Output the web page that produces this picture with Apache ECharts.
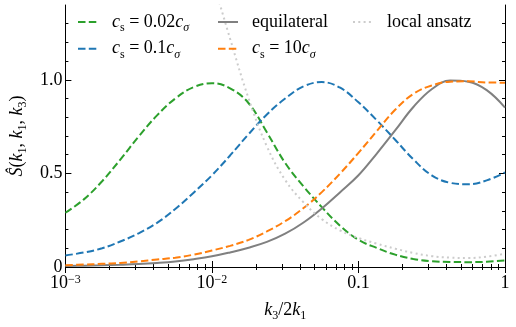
<!DOCTYPE html>
<html><head><meta charset="utf-8">
<script src="https://cdn.jsdelivr.net/npm/echarts@6/dist/echarts.min.js"></script>
<style>html,body{margin:0;padding:0;background:#fff}#c{width:516px;height:327px}</style>
</head><body><div id="c"></div>
<script>
// k3/2k1 sample points
const kRatio = [0.001, 0.00133, 0.00178, 0.00237, 0.00316, 0.00422, 0.00562, 0.0075,
  0.01, 0.0133, 0.0178, 0.0237, 0.0316, 0.0422, 0.0562, 0.075,
  0.1, 0.133, 0.178, 0.237, 0.316, 0.422, 0.562, 0.75, 1.0];
const sCs002 = [0.29, 0.36, 0.458, 0.574, 0.697, 0.81, 0.90, 0.961,
  0.982, 0.955, 0.875, 0.72, 0.556, 0.43, 0.32, 0.22,
  0.145, 0.102, 0.066, 0.043, 0.031, 0.027, 0.026, 0.028, 0.035];
const sCs01 = [0.062, 0.077, 0.10, 0.136, 0.18, 0.236, 0.31, 0.397,
  0.49, 0.596, 0.71, 0.815, 0.90, 0.965, 0.988, 0.958,
  0.88, 0.785, 0.68, 0.575, 0.49, 0.45, 0.442, 0.463, 0.505];
const sEquil = [0.005, 0.007, 0.009, 0.012, 0.016, 0.022, 0.03, 0.042,
  0.057, 0.078, 0.103, 0.134, 0.178, 0.238, 0.313, 0.40,
  0.49, 0.605, 0.73, 0.855, 0.95, 0.996, 0.99, 0.945, 0.852];
const sCs10 = [0.01, 0.013, 0.017, 0.022, 0.03, 0.04, 0.05, 0.066,
  0.088, 0.113, 0.145, 0.19, 0.245, 0.315, 0.40, 0.50,
  0.61, 0.725, 0.84, 0.925, 0.97, 0.99, 0.992, 0.986, 0.985];
const sLocal = [null, null, null, null, null, null, null, null,
  1.55, 1.22, 0.90, 0.645, 0.465, 0.345, 0.256, 0.195,
  0.155, 0.125, 0.098, 0.075, 0.058, 0.05, 0.048, 0.055, 0.071];

const xMajorTicks = [0.001, 0.01, 0.1, 1];
const xTickLabels = ['{b|10}{e|\u22123}', '{b|10}{e|\u22122}', '{b|0.1}', '{b|1}'];
const xMinorTicks = [0.002,0.003,0.004,0.005,0.006,0.007,0.008,0.009,
  0.02,0.03,0.04,0.05,0.06,0.07,0.08,0.09,0.2,0.3,0.4,0.5,0.6,0.7,0.8,0.9];
const yMajorTicks = [0, 0.5, 1.0];
const yTickLabels = ['0', '0.5', '1.0'];
const yMinorTicks = [0.1,0.2,0.3,0.4,0.6,0.7,0.8,0.9,1.1,1.2,1.3];

const seriesNames = ['cs002', 'cs01', 'equil', 'cs10', 'local'];
const legendTexts = {
  cs002: '{i|c}{s|s}{n| = 0.02}{i|c}{si|\u03c3}',
  cs01: '{i|c}{s|s}{n| = 0.1}{i|c}{si|\u03c3}',
  equil: '{n|equilateral}',
  cs10: '{i|c}{s|s}{n| = 10}{i|c}{si|\u03c3}',
  local: '{n|local ansatz}'
};

const FONT = '"Liberation Serif", "DejaVu Serif", serif';
const rich = {
  n: {fontFamily: FONT, fontSize: 18, lineHeight: 24, color: '#000'},
  i: {fontFamily: FONT, fontSize: 18, lineHeight: 24, fontStyle: 'italic', color: '#000'},
  s: {fontFamily: FONT, fontSize: 12, lineHeight: 12, verticalAlign: 'bottom', color: '#000'},
  si: {fontFamily: FONT, fontSize: 12, lineHeight: 12, verticalAlign: 'bottom', fontStyle: 'italic', color: '#000'},
  b: {fontFamily: FONT, fontSize: 18, lineHeight: 18, color: '#000'},
  e: {fontFamily: FONT, fontSize: 12, lineHeight: 12, verticalAlign: 'top', color: '#000'}
};

function pairs(ys) { return kRatio.map((x, i) => [x, ys[i]]); }

const axisLineStyle = {show: true, lineStyle: {color: '#000', width: 1}};
function xAx(pos, major) {
  return {
    type: 'log', logBase: 10, min: 0.001, max: 1, position: pos,
    axisLine: major ? axisLineStyle : {show: false},
    axisTick: {show: true, inside: true, length: major ? 6 : 3,
      customValues: major ? xMajorTicks : xMinorTicks, lineStyle: {color: '#000', width: 1}},
    axisLabel: (major && pos === 'bottom') ? {
      show: true, customValues: xMajorTicks, margin: 7,
      formatter: function (v) {
        const idx = xMajorTicks.findIndex(t => Math.abs(Math.log10(t) - Math.log10(v)) < 1e-6);
        return idx >= 0 ? xTickLabels[idx] : '';
      }, rich: rich
    } : {show: false},
    splitLine: {show: false}, minorSplitLine: {show: false},
    name: (major && pos === 'bottom') ? '{i|k}{s|3}{n|/2}{i|k}{s|1}' : '',
    nameLocation: 'middle', nameGap: 31,
    nameTextStyle: {rich: rich}
  };
}
function yAx(pos, major) {
  return {
    type: 'value', min: 0, max: 1.4, position: pos,
    axisLine: major ? axisLineStyle : {show: false},
    axisTick: {show: true, inside: true, length: major ? 6 : 3,
      customValues: major ? yMajorTicks : yMinorTicks, lineStyle: {color: '#000', width: 1}},
    axisLabel: (major && pos === 'left') ? {
      show: true, customValues: yMajorTicks, margin: 3,
      formatter: function (v) {
        const idx = yMajorTicks.findIndex(t => Math.abs(t - v) < 1e-9);
        return idx >= 0 ? '{b|' + yTickLabels[idx] + '}' : '';
      }, rich: rich
    } : {show: false},
    splitLine: {show: false},
    name: (major && pos === 'left') ? '{i|\u015c}{n|(}{i|k}{s|1}{n|, }{i|k}{s|1}{n|, }{i|k}{s|3}{n|)}' : '',
    nameLocation: 'middle', nameGap: 32, nameRotate: 90,
    nameTextStyle: {rich: rich}
  };
}

const colors = {cs002: '#2ca02c', cs01: '#1f77b4', equil: '#808080', cs10: '#ff7f0e', local: '#cccccc'};
const dashes = {cs002: [7.5, 3.3], cs01: [7.5, 3.3], equil: 'solid', cs10: [7.5, 3.3], local: [2, 3.3]};
const values = {cs002: sCs002, cs01: sCs01, equil: sEquil, cs10: sCs10, local: sLocal};

const legendPos = {
  cs002: [77, 13], cs01: [77, 39.7], equil: [217, 13], cs10: [217, 39.7], local: [352, 13]
};

const chart = echarts.init(document.getElementById('c'), null, {renderer: 'canvas'});
chart.setOption({
  animation: false,
  backgroundColor: '#fff',
  grid: {left: 65, right: 11, top: 5, bottom: 57, containLabel: false},
  xAxis: [xAx('bottom', true), xAx('bottom', false), xAx('top', true), xAx('top', false)],
  yAxis: [yAx('left', true), yAx('left', false), yAx('right', true), yAx('right', false)],
  legend: seriesNames.map(n => ({
    data: [n], left: legendPos[n][0], top: legendPos[n][1], padding: 0,
    itemWidth: 20, itemHeight: 10, selectedMode: false,
    itemStyle: {opacity: 0, borderWidth: 0},
    formatter: function (name) { return legendTexts[name]; },
    textStyle: {rich: rich, padding: [0, 0, 0, 9]}
  })),
  series: seriesNames.map(n => ({
    name: n, type: 'line', xAxisIndex: 0, yAxisIndex: 0,
    data: pairs(values[n]), smooth: 0.4, showSymbol: false, symbol: 'none',
    connectNulls: false, clip: true,
    lineStyle: {color: colors[n], width: 2, type: dashes[n]},
    itemStyle: {color: colors[n]}
  }))
});
</script></body></html>
